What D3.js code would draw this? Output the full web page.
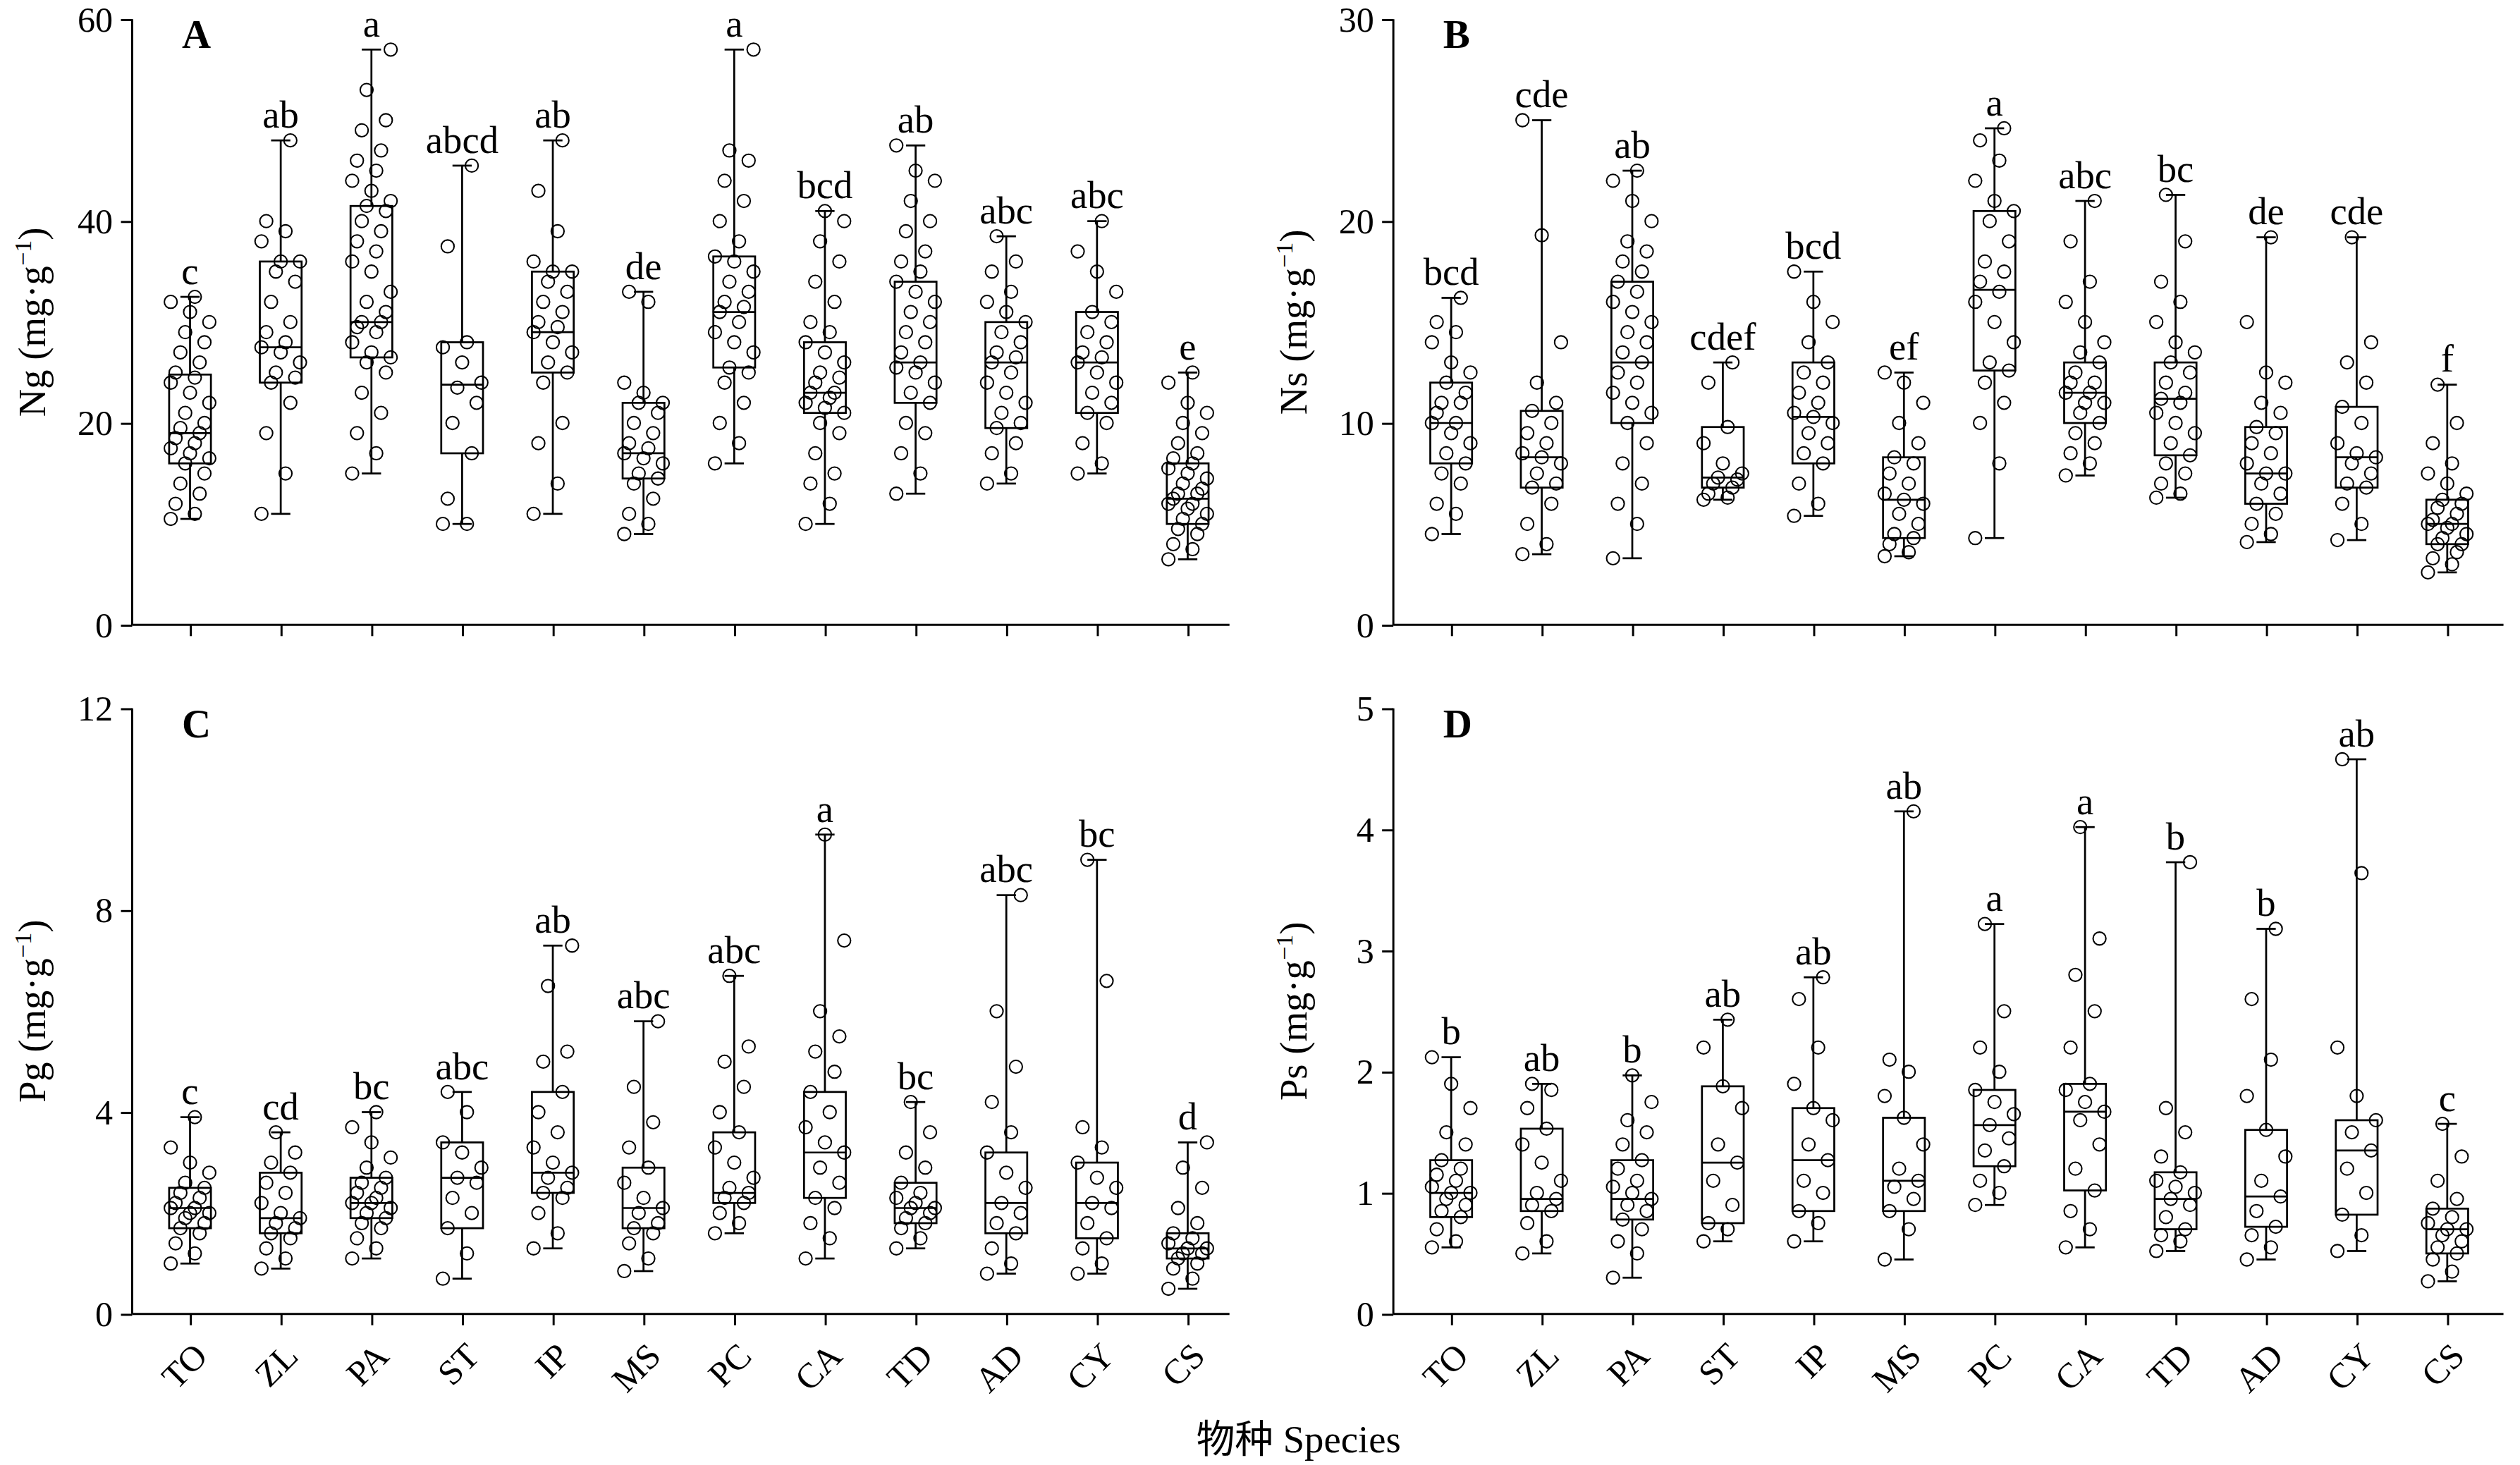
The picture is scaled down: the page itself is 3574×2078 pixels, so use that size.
<!DOCTYPE html>
<html lang="en">
<head>
<script src="https://d3js.org/d3.v7.min.js"></script>
<style>
  body { margin: 0; background: white; }
  text { font-family: "Liberation Serif", "Noto Sans CJK SC", serif; }
</style>
</head>
<body>
<script>
// species order on the x axis
var species = ["TO","ZL","PA","ST","IP","MS","PC","CA","TD","AD","CY","CS"];

// each box: [letter, min, q1, median, q3, max, points]
var panels = [
  { id: "A", label: "Ng", max: 60, ticks: [0,20,40,60], left: 82, right: 765, first: 118, last: 739, top: 12, bottom: 389, showX: false,
    boxes: [
      ["c", 10.5, 16, 19, 24.8, 32.5, [10.5,11,12,13,14,15,16,16.5,17,17.5,18,18.5,19,19.5,20,21,22,23,24,24.5,25,26,27,28,29,30,31,32,32.5]],
      ["ab", 11, 24, 27.5, 36, 48, [11,15,19,22,24,24.5,25,26,27,27.5,28,29,30,32,34,35,36,36,38,39,40,48]],
      ["a", 15, 26.5, 30, 41.5, 57, [15,17,19,21,23,25,26,26.5,27,28,29,29.5,30,30,31,32,33,35,36,37,38,39,40,41,41.5,42,43,44,45,46,47,49,50,53,57]],
      ["abcd", 10, 17, 23.8, 28, 45.5, [10,10,12.5,17,20,22,23.5,24,26,27.5,28,37.5,45.5]],
      ["ab", 11, 25, 29, 35, 48, [11,14,18,20,24,25,26,27,28,29,29.5,30,31,32,33,34,35,35,36,39,43,48]],
      ["de", 9, 14.5, 17, 22, 33, [9,10,11,12.5,14,14.5,15,16,16.5,17,17.5,18,19,20,21,22,22,23,24,32,33]],
      ["a", 16, 25.5, 31, 36.5, 57, [16,18,20,22,24,25,25.5,27,28,29,30,31,31.5,32,33,34,35,36,36.5,38,40,42,44,46,47,57]],
      ["bcd", 10, 21, 23, 28, 41, [10,12,14,15,17,19,20,21,21.5,22,22.5,23,23,24,24.5,25,26,27,28,29,30,32,34,36,38,40,41]],
      ["ab", 13, 22, 26, 34, 47.5, [13,15,17,19,20,22,23,24,25,25.5,26,27,28,29,30,31,32,33,34,35,36,37,39,40,42,44,45,47.5]],
      ["abc", 14, 19.5, 26, 30, 38.5, [14,15,17,18,19.5,20,21,22,23,24,25,26,26.5,27,28,29,30,31,32,33,35,36,38.5]],
      ["abc", 15, 21, 26, 31, 40, [15,16,18,20,21,22,23,24,25,26,26.5,27,28,29,30,31,33,35,37,40]],
      ["e", 6.5, 10, 12.5, 16, 25, [6.5,7.5,8,9,9.5,10,10.5,11,11.5,12,12,12.5,13,13,13.5,14,14.5,15,15.5,16,16.5,17,18,19,20,21,22,24,25]]
    ]},
  { id: "B", label: "Ns", max: 30, ticks: [0,10,20,30], left: 867, right: 1558, first: 903, last: 1523, top: 12, bottom: 389, showX: false,
    boxes: [
      ["bcd", 4.5, 8, 10, 12, 16.2, [4.5,5.5,6,7,7.5,8,8.5,9,9.5,10,10,10.5,11,11,11.5,12,12.5,13,14,14.5,15,16.2]],
      ["cde", 3.5, 6.8, 8.3, 10.6, 25, [3.5,4,5,6,6.8,7,7.5,8,8.3,8.5,9,9.5,10,10.6,11,12,14,19.3,25]],
      ["ab", 3.3, 10, 13, 17, 22.5, [3.3,5,6,7,8,9,10,10.5,11,11.5,12,12.5,13,13.5,14,14.5,15,15.5,16,16.5,17,17.5,18,18.5,19,20,21,22,22.5]],
      ["cdef", 6.2, 6.8, 7.3, 9.8, 13, [6.2,6.3,6.5,6.8,7,7.2,7.3,7.5,8,9,9.8,12,13]],
      ["bcd", 5.4, 8, 10.3, 13, 17.5, [5.4,6,7,8,8.5,9,9.5,10,10.3,10.5,11,11.5,12,12.5,13,14,15,16,17.5]],
      ["ef", 3.4, 4.3, 6.2, 8.3, 12.5, [3.4,3.6,4,4.3,4.5,5,5.5,6,6.2,6.5,7,7.5,8,8.3,9,10,11,12,12.5]],
      ["a", 4.3, 12.6, 16.6, 20.5, 24.6, [4.3,8,10,11,12,12.6,13,14,15,16,16.5,17,17.5,18,19,20,20.5,21,22,23,24,24.6]],
      ["abc", 7.4, 10, 11.5, 13, 21, [7.4,8,8.5,9,9.5,10,10.5,11,11,11.5,11.5,12,12,12.5,13,13.5,14,15,16,17,19,21]],
      ["bc", 6.3, 8.4, 11.2, 13, 21.3, [6.3,6.5,7,7.5,8,8.4,9,9.5,10,10.5,11,11.2,11.5,12,12.5,13,13.5,14,15,16,17,19,21.3]],
      ["de", 4.1, 6, 7.5, 9.8, 19.2, [4.1,4.5,5,5.5,6,6.5,7,7.5,7.5,8,8.5,9,9.5,9.8,10.5,11,12,12.5,15,19.2]],
      ["cde", 4.2, 6.8, 8.3, 10.8, 19.2, [4.2,5,6,6.8,7,7.5,8,8.3,8.5,9,10,10.8,12,13,14,19.2]],
      ["f", 2.6, 4, 5, 6.2, 11.9, [2.6,3,3.3,3.6,4,4,4.3,4.5,4.8,5,5,5.2,5.5,5.8,6,6.2,6.5,7,7.5,8,9,10,11.9]]
    ]},
  { id: "C", label: "Pg", max: 12, ticks: [0,4,8,12], left: 82, right: 765, first: 118, last: 739, top: 441, bottom: 818, showX: true,
    boxes: [
      ["c", 1, 1.7, 2.1, 2.5, 3.9, [1,1.2,1.4,1.6,1.7,1.8,1.9,2,2,2.1,2.1,2.2,2.3,2.4,2.5,2.6,2.8,3,3.3,3.9]],
      ["cd", 0.9, 1.6, 1.9, 2.8, 3.6, [0.9,1.1,1.3,1.5,1.6,1.7,1.8,1.9,2,2.2,2.4,2.6,2.8,3,3.2,3.6]],
      ["bc", 1.1, 1.9, 2.2, 2.7, 4, [1.1,1.3,1.5,1.7,1.8,1.9,2,2.1,2.2,2.2,2.3,2.4,2.5,2.6,2.7,2.9,3.1,3.4,3.7,4]],
      ["abc", 0.7, 1.7, 2.7, 3.4, 4.4, [0.7,1.2,1.7,2,2.3,2.6,2.7,2.9,3.2,3.4,4,4.4]],
      ["ab", 1.3, 2.4, 2.8, 4.4, 7.3, [1.3,1.6,2,2.3,2.4,2.5,2.7,2.8,3,3.3,3.6,4,4.4,5,5.2,6.5,7.3]],
      ["abc", 0.85, 1.7, 2.1, 2.9, 5.8, [0.85,1.1,1.4,1.6,1.7,1.8,2,2.1,2.3,2.6,2.9,3.3,3.8,4.5,5.8]],
      ["abc", 1.6, 2.2, 2.4, 3.6, 6.7, [1.6,1.8,2,2.2,2.3,2.4,2.5,2.7,3,3.3,3.6,4,4.5,5,5.3,6.7]],
      ["a", 1.1, 2.3, 3.2, 4.4, 9.5, [1.1,1.5,1.8,2.1,2.3,2.6,2.9,3.2,3.4,3.7,4,4.4,4.8,5.2,5.5,6,7.4,9.5]],
      ["bc", 1.3, 1.8, 2.1, 2.6, 4.2, [1.3,1.5,1.7,1.8,1.9,2,2.1,2.1,2.2,2.3,2.4,2.6,2.9,3.2,3.6,4.2]],
      ["abc", 0.8, 1.6, 2.2, 3.2, 8.3, [0.8,1,1.3,1.6,1.8,2,2.2,2.5,2.8,3.2,3.6,4.2,4.9,6,8.3]],
      ["bc", 0.8, 1.5, 2.2, 3, 9, [0.8,1,1.3,1.5,1.8,2.1,2.2,2.5,2.7,3,3.3,3.7,6.6,9]],
      ["d", 0.5, 1.1, 1.3, 1.6, 3.4, [0.5,0.7,0.9,1,1.1,1.2,1.2,1.3,1.3,1.4,1.5,1.6,1.8,2.1,2.5,2.9,3.4]]
    ]},
  { id: "D", label: "Ps", max: 5, ticks: [0,1,2,3,4,5], left: 867, right: 1558, first: 903, last: 1523, top: 441, bottom: 818, showX: true,
    boxes: [
      ["b", 0.55, 0.8, 1.0, 1.27, 2.12, [0.55,0.6,0.7,0.8,0.85,0.9,0.95,1,1,1.05,1.1,1.15,1.2,1.27,1.4,1.5,1.7,1.9,2.12]],
      ["ab", 0.5, 0.85, 0.95, 1.53, 1.9, [0.5,0.6,0.75,0.85,0.9,0.95,1,1.1,1.25,1.4,1.53,1.7,1.85,1.9]],
      ["b", 0.3, 0.78, 0.95, 1.27, 1.97, [0.3,0.5,0.6,0.7,0.78,0.85,0.9,0.95,1,1.05,1.1,1.2,1.27,1.4,1.5,1.6,1.75,1.97]],
      ["ab", 0.6, 0.75, 1.25, 1.88, 2.43, [0.6,0.7,0.75,0.9,1.1,1.25,1.4,1.7,1.88,2.2,2.43]],
      ["ab", 0.6, 0.85, 1.27, 1.7, 2.78, [0.6,0.75,0.85,1,1.1,1.27,1.4,1.6,1.7,1.9,2.2,2.6,2.78]],
      ["ab", 0.45, 0.85, 1.1, 1.62, 4.15, [0.45,0.7,0.85,0.95,1.05,1.1,1.2,1.4,1.62,1.8,2,2.1,4.15]],
      ["a", 0.9, 1.22, 1.56, 1.85, 3.22, [0.9,1,1.1,1.22,1.35,1.45,1.56,1.65,1.75,1.85,2,2.2,2.5,3.22]],
      ["a", 0.55, 1.02, 1.67, 1.9, 4.02, [0.55,0.7,0.85,1.02,1.2,1.4,1.6,1.67,1.75,1.85,1.9,2.2,2.5,2.8,3.1,4.02]],
      ["b", 0.52, 0.7, 0.95, 1.17, 3.73, [0.52,0.6,0.65,0.7,0.8,0.9,0.95,1,1.05,1.1,1.17,1.3,1.5,1.7,3.73]],
      ["b", 0.45, 0.72, 0.97, 1.52, 3.18, [0.45,0.55,0.65,0.72,0.85,0.97,1.1,1.3,1.52,1.8,2.1,2.6,3.18]],
      ["ab", 0.52, 0.82, 1.35, 1.6, 4.58, [0.52,0.65,0.82,1,1.2,1.35,1.5,1.6,1.8,2.2,3.64,4.58]],
      ["c", 0.27, 0.5, 0.7, 0.87, 1.57, [0.27,0.35,0.45,0.5,0.55,0.6,0.65,0.7,0.7,0.75,0.8,0.87,0.95,1.1,1.3,1.57]]
    ]}
];

var W = 1568, H = 912;
var svg = d3.select("body").append("svg")
    .attr("width", 3574)
    .attr("height", 2078)
    .attr("viewBox", "0 0 " + W + " " + H);

var boxW = 26, capW = 12;
var serif = "Liberation Serif, serif";

panels.forEach(function (p) {
    var g = svg.append("g");
    var x = d3.scalePoint().domain(species).range([p.first, p.last]);
    var y = d3.scaleLinear().domain([0, p.max]).range([p.bottom, p.top]);

    // axes lines
    g.append("line").attr("x1", p.left).attr("x2", p.left).attr("y1", p.top).attr("y2", p.bottom)
        .attr("stroke", "black").attr("stroke-width", 1.3);
    g.append("line").attr("x1", p.left).attr("x2", p.right).attr("y1", p.bottom).attr("y2", p.bottom)
        .attr("stroke", "black").attr("stroke-width", 1.3);

    var ya = g.append("g")
        .attr("transform", "translate(" + p.left + ",0)")
        .call(d3.axisLeft(y).tickValues(p.ticks).tickFormat(d3.format("d")).tickSize(7).tickSizeOuter(0))
        .attr("font-family", serif).attr("font-size", 22);
    ya.select(".domain").remove();
    ya.selectAll("text").attr("dx", "-2");
    ya.selectAll("line").attr("stroke-width", 1.3);

    var xa = g.append("g")
        .attr("transform", "translate(0," + p.bottom + ")")
        .call(d3.axisBottom(x).tickSize(7).tickSizeOuter(0))
        .attr("font-family", serif).attr("font-size", 22);
    xa.select(".domain").remove();
    xa.selectAll("line").attr("stroke-width", 1.3);
    if (p.showX) {
        xa.selectAll("text")
            .attr("text-anchor", "end")
            .attr("dy", "0.35em")
            .attr("transform", "translate(6,22) rotate(-45)")
            .attr("x", 0).attr("y", 0);
    } else {
        xa.selectAll("text").remove();
    }

    // y label
    var cy = (p.top + p.bottom) / 2;
    var yl = g.append("text")
        .attr("transform", "translate(" + (p.left - 54) + "," + cy + ") rotate(-90)")
        .attr("text-anchor", "middle")
        .style("font-size", "24px");
    yl.append("tspan").text(p.label + " (mg·g");
    yl.append("tspan").text("−1").attr("dy", "-9").style("font-size", "15px");
    yl.append("tspan").text(")").attr("dy", "9");

    // panel letter
    g.append("text").attr("x", p.first - 5).attr("y", p.top + 18)
        .style("font-size", "25px").style("font-weight", "bold").text(p.id);

    p.boxes.forEach(function (b, k) {
        var cx = x(species[k]);
        var bg = g.append("g");
        // whisker
        bg.append("line").attr("x1", cx).attr("x2", cx).attr("y1", y(b[1])).attr("y2", y(b[5]))
            .attr("stroke", "black").attr("stroke-width", 1.2);
        [b[1], b[5]].forEach(function (v) {
            bg.append("line").attr("x1", cx - capW / 2).attr("x2", cx + capW / 2)
                .attr("y1", y(v)).attr("y2", y(v)).attr("stroke", "black").attr("stroke-width", 1.2);
        });
        bg.append("rect").attr("x", cx - boxW / 2).attr("width", boxW)
            .attr("y", y(b[4])).attr("height", y(b[2]) - y(b[4]))
            .attr("fill", "white").attr("stroke", "black").attr("stroke-width", 1.2);
        bg.append("line").attr("x1", cx - boxW / 2).attr("x2", cx + boxW / 2)
            .attr("y1", y(b[3])).attr("y2", y(b[3])).attr("stroke", "black").attr("stroke-width", 1.2);
        // points
        bg.selectAll("circle").data(b[6]).enter().append("circle")
            .attr("cx", function (d, i) { return cx + ((i * 5) % 9 - 4) * 3; })
            .attr("cy", function (d) { return y(d); })
            .attr("r", 4)
            .attr("fill", "none").attr("stroke", "black").attr("stroke-width", 0.9);
        // significance letter
        bg.append("text").attr("x", cx).attr("y", y(b[5]) - 8)
            .attr("text-anchor", "middle").style("font-size", "24px").text(b[0]);
    });
});

svg.append("text").attr("x", 808).attr("y", 904)
    .attr("text-anchor", "middle").style("font-size", "24px").text("物种 Species");
</script>
</body>
</html>
